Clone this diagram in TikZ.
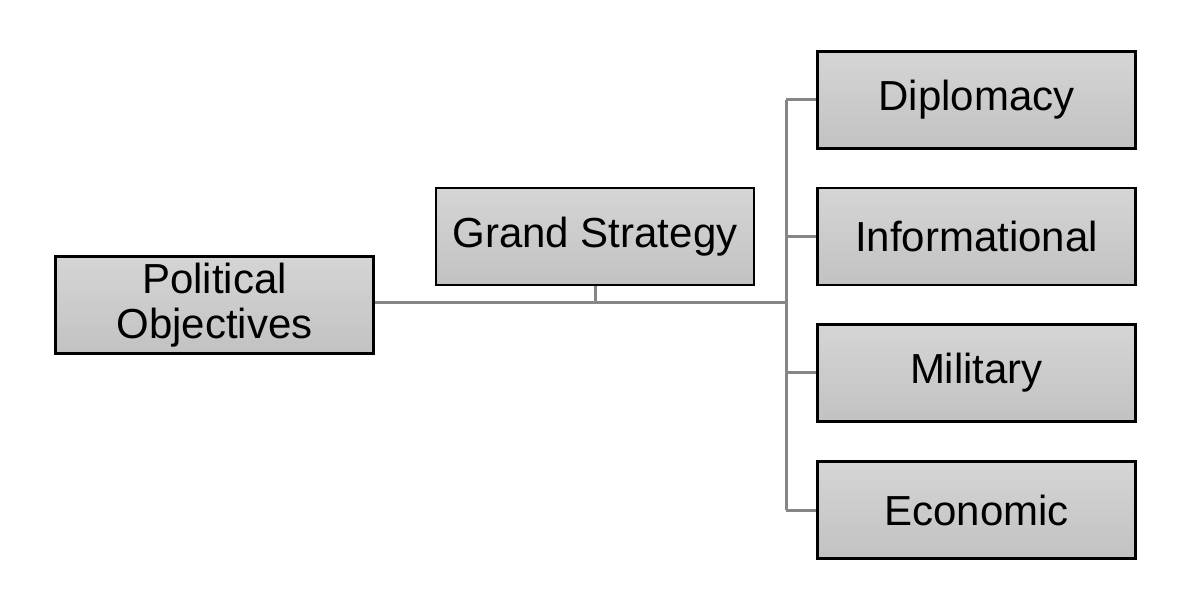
\documentclass[tikz,border=0pt]{standalone}
\usepackage{fontspec}
\setmainfont{Liberation Sans}
\definecolor{lineg}{HTML}{868686}
\definecolor{topg}{HTML}{D5D5D5}
\definecolor{botg}{HTML}{C2C2C2}
\begin{document}
\begin{tikzpicture}[x=1pt,y=-1pt,
  box/.style={draw=black, line width=2.6pt, top color=topg, bottom color=botg,
    minimum width=318pt, minimum height=97pt, inner sep=0pt, align=center,
    font=\fontsize{42}{45}\selectfont},
  conn/.style={draw=lineg, line width=3pt}]
\useasboundingbox (0,0) rectangle (1200,612);
\node[box] (pol) at (214.5,305) {Political\\Objectives};
\node[box] (gs) at (595,236.5) {Grand Strategy};
\node[box] (dip) at (976.5,100) {Diplomacy};
\node[box] (inf) at (976.5,236.5) {Informational};
\node[box] (mil) at (976.5,373) {Military};
\node[box] (eco) at (976.5,510) {Economic};
\coordinate (bus) at (786,303);
\coordinate (gsj) at (595,303);
\draw[conn] (pol.east |- bus) -- (bus);
\draw[conn] (gs.south) -- (gsj);
\draw[conn] (dip.west -| bus) -- (eco.west -| bus);
\draw[conn] (dip.west -| bus) -- (dip.west);
\draw[conn] (inf.west -| bus) -- (inf.west);
\draw[conn] (mil.west -| bus) -- (mil.west);
\draw[conn] (eco.west -| bus) -- (eco.west);
\end{tikzpicture}
\end{document}
